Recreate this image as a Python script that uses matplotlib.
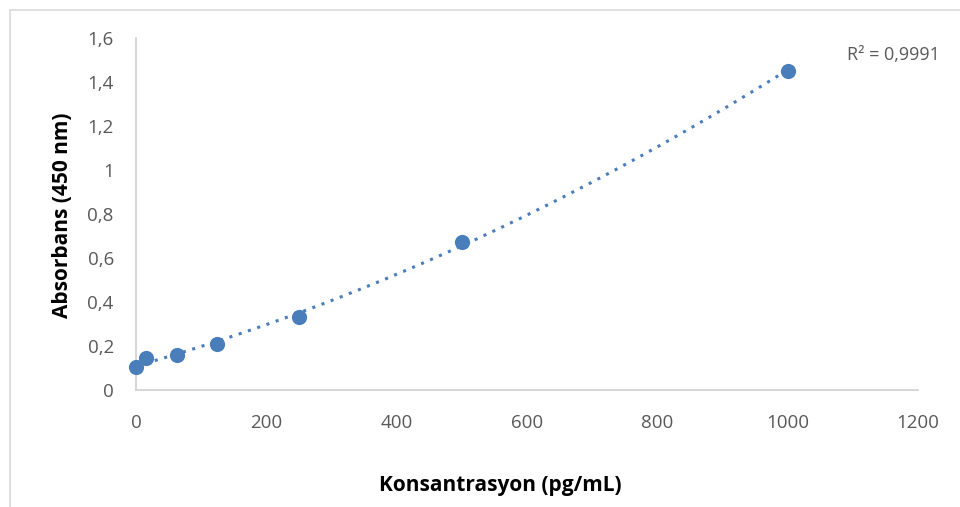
import matplotlib
matplotlib.use("Agg")
import matplotlib.pyplot as plt
import numpy as np
from matplotlib.patches import Rectangle

conc = [0, 15.6, 62.5, 125, 250, 500, 1000]
absorb = [0.105, 0.146, 0.159, 0.209, 0.333, 0.674, 1.452]
xticks = [0, 200, 400, 600, 800, 1000, 1200]
yticks = [0, 0.2, 0.4, 0.6, 0.8, 1.0, 1.2, 1.4, 1.6]
ytick_labels = ["0", "0,2", "0,4", "0,6", "0,8", "1", "1,2", "1,4", "1,6"]
r2_text = "R² = 0,9991"

plt.rcParams['font.family'] = ['Open Sans', 'DejaVu Sans']
color = "#4a7ebb"
grey = "#595959"

fig = plt.figure(figsize=(9.6, 5.07), dpi=100)
ax = fig.add_axes([136/960, 1-390/507, (918-136)/960, (390-38)/507])

coef = np.polyfit(conc, absorb, 2)
xs = np.linspace(min(conc), max(conc), 200)
ax.plot(xs, np.polyval(coef, xs), linestyle=(0, (1, 2.2)), color=color, linewidth=2.2, zorder=2)
ax.scatter(conc, absorb, s=120, color=color, zorder=3, linewidths=0, clip_on=False)

ax.set_xlim(0, 1200)
ax.set_ylim(0, 1.6)
ax.set_xticks(xticks)
ax.set_xticklabels([str(v) for v in xticks])
ax.set_yticks(yticks)
ax.set_yticklabels(ytick_labels)
ax.tick_params(axis="x", length=0, labelsize=13.5, colors=grey, pad=17)
ax.tick_params(axis="y", length=0, labelsize=13.5, colors=grey, pad=16)
for s in ["top", "right"]:
    ax.spines[s].set_visible(False)
for s in ["left", "bottom"]:
    ax.spines[s].set_color("#d0d0d0")
    ax.spines[s].set_linewidth(1.2)

fig.text(500/960, 1-485/507, "Konsantrasyon (pg/mL)", ha="center", va="center",
         fontsize=15, fontweight="bold", color="black")
fig.text(62/960, 1-215/507, "Absorbans (450 nm)", ha="center", va="center",
         rotation=90, fontsize=15, fontweight="bold", color="black")
fig.text(893/960, 1-55/507, r2_text, ha="center", va="center", fontsize=13, color=grey)

fig.add_artist(Rectangle((10/960, -0.01), 1.0, 1 - 10/507 + 0.01, transform=fig.transFigure,
                         fill=False, edgecolor="#d9d9d9", linewidth=1.2))

fig.savefig("out.png", dpi=100)
